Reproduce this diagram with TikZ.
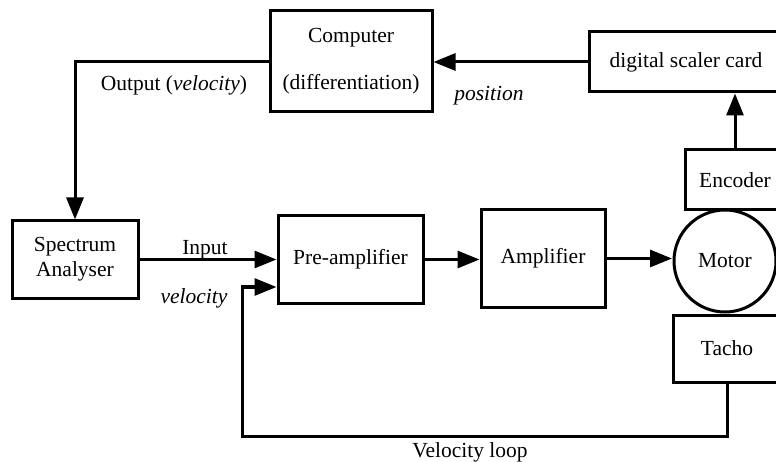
\documentclass[tikz,border=0pt]{standalone}
\usepackage{fontspec}
\setmainfont{Liberation Serif}
\usetikzlibrary{arrows.meta,calc}
\begin{document}
\begin{tikzpicture}[x=1pt,y=-1pt,
  box/.style={draw,line width=3pt,rectangle,inner sep=0pt,align=center},
  lab/.style={inner sep=0pt},
  conn/.style={line width=3pt},
  arr/.style={conn,-{Triangle[length=22pt,width=17pt]}},
  font=\fontsize{21.5}{25}\selectfont]
\useasboundingbox (0,0) rectangle (776,462);
% blocks
\node[box,minimum width=162pt,minimum height=101pt] (comp) at (351,61.5) {Computer\\[22pt](differentiation)};
\node[box,minimum width=194pt,minimum height=60pt] (scal) at (686,62) {digital scaler card};
\node[box,minimum width=100pt,minimum height=60pt] (enc) at (735,180) {Encoder};
\node[draw,circle,line width=3pt,inner sep=0pt,minimum size=102pt] (mot) at (725,261) {Motor};
\node[box,minimum width=108pt,minimum height=67pt] (tach) at (727,348.5) {Tacho};
\node[box,minimum width=126pt,minimum height=77pt] (spec) at (75,259.5) {Spectrum\\Analyser};
\node[box,minimum width=145pt,minimum height=87pt] (pre) at (350.5,259.5) {Pre-amplifier};
\node[box,minimum width=124pt,minimum height=97pt] (amp) at (543,258.5) {Amplifier};
% labels
\node[lab] (lout) at (174,85) {Output (\textit{velocity})};
\node[lab] (lpos) at (489,96) {\textit{position}};
\node[lab] (lin) at (205,250) {Input};
\node[lab] (lvel) at (194,298) {\textit{velocity}};
\node[lab] (lloop) at (470,452) {Velocity loop};
% connectors
\draw[arr] (comp.west) -| (spec.north);
\draw[arr] (scal.west) -- (scal.west -| comp.east);
\draw[arr] (enc.north) -- (enc.north |- scal.south);
\draw[arr] (spec.east) -- (pre.west);
\draw[arr] (pre.east) -- (pre.east -| amp.west);
\draw[arr] (amp.east) -- ($(amp.east -| mot.west)+(-0.5,0)$);
\coordinate (lp) at (242,436);
\coordinate (pin) at ($(pre.west)+(0,27.5)$);
\draw[arr] (tach.south) |- (lp) |- (pin);
\end{tikzpicture}
\end{document}
